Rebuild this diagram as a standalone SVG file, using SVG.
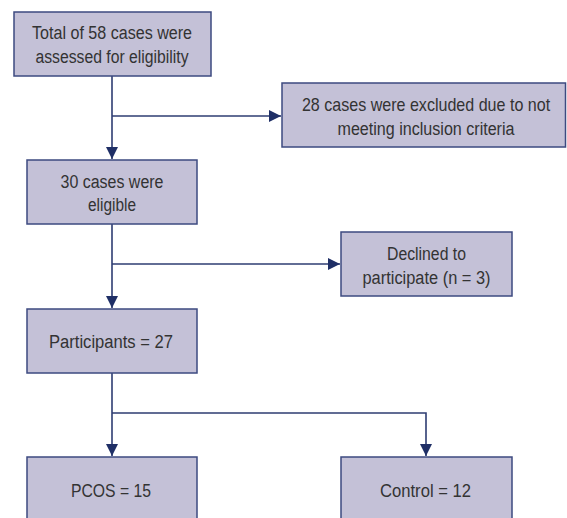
<svg xmlns="http://www.w3.org/2000/svg" width="567" height="518" viewBox="0 0 567 518">
<style>
.box{fill:#c4c1d7;stroke:#3d4a80;stroke-width:1.5}
.t{font-family:"Liberation Sans",Arial,sans-serif;font-size:18px;fill:#333333;text-anchor:middle}
.c{fill:none;stroke:#2e3d72;stroke-width:1.6}
</style>
<defs>
<marker id="ah" markerUnits="userSpaceOnUse" markerWidth="12" markerHeight="12" viewBox="0 0 12 12" refX="12" refY="6" orient="auto">
<path d="M0,0 L12,6 L0,12 Z" fill="#1f2f66"/>
</marker>
</defs>
<rect width="567" height="518" fill="#ffffff"/>
<g id="connectors">
<path class="c" d="M112,76 V159" marker-end="url(#ah)"/>
<path class="c" d="M112,116 H281" marker-end="url(#ah)"/>
<path class="c" d="M112,224 V308" marker-end="url(#ah)"/>
<path class="c" d="M112,264 H340" marker-end="url(#ah)"/>
<path class="c" d="M112,373 V456" marker-end="url(#ah)"/>
<path class="c" d="M112,413 H426 V456" marker-end="url(#ah)"/>
</g>
<g id="n1">
<rect class="box" x="14" y="12" width="197" height="64"/>
<text class="t" x="112" y="39" textLength="160" lengthAdjust="spacingAndGlyphs">Total of 58 cases were</text>
<text class="t" x="112" y="62.5" textLength="153" lengthAdjust="spacingAndGlyphs">assessed for eligibility</text>
</g>
<g id="n2">
<rect class="box" x="282" y="83" width="283.5" height="64"/>
<text class="t" transform="translate(426,111) scale(0.88,1)" x="0" y="0" textLength="282" lengthAdjust="spacingAndGlyphs">28 cases were excluded due to not</text>
<text class="t" x="426" y="135" textLength="177" lengthAdjust="spacingAndGlyphs">meeting inclusion criteria</text>
</g>
<g id="n3">
<rect class="box" x="27" y="160" width="170" height="64"/>
<text class="t" x="112" y="188" textLength="103" lengthAdjust="spacingAndGlyphs">30 cases were</text>
<text class="t" x="112" y="210.5" textLength="48" lengthAdjust="spacingAndGlyphs">eligible</text>
</g>
<g id="n4">
<rect class="box" x="341" y="232" width="171" height="64"/>
<text class="t" x="426.5" y="260" textLength="79" lengthAdjust="spacingAndGlyphs">Declined to</text>
<text class="t" x="426.5" y="283.5" textLength="128" lengthAdjust="spacingAndGlyphs">participate (n = 3)</text>
</g>
<g id="n5">
<rect class="box" x="27" y="309" width="170" height="64"/>
<text class="t" x="111" y="348" textLength="124" lengthAdjust="spacingAndGlyphs">Participants = 27</text>
</g>
<g id="n6">
<rect class="box" x="27" y="457" width="170" height="70"/>
<text class="t" x="111" y="497" textLength="80" lengthAdjust="spacingAndGlyphs">PCOS = 15</text>
</g>
<g id="n7">
<rect class="box" x="341" y="457" width="171" height="70"/>
<text class="t" x="425.5" y="497" textLength="91" lengthAdjust="spacingAndGlyphs">Control = 12</text>
</g>
</svg>
